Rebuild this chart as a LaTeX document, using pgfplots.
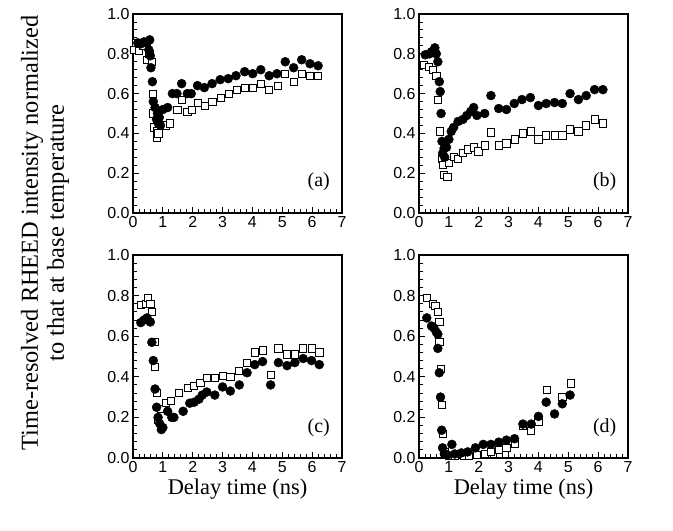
\documentclass[border=0pt]{standalone}
\usepackage{fontspec}
\setmainfont{Liberation Serif}
\newfontfamily\arial{Liberation Sans}
\usepackage{pgfplots}
\pgfplotsset{compat=1.18}

\pgfplotsset{
  panel/.style={
    scale only axis, width=209bp, height=199bp,
    xmin=0, xmax=7, ymin=0, ymax=1,
    xtick={0,1,2,3,4,5,6,7}, ytick={0,0.2,0.4,0.6,0.8,1.0},
    minor x tick num=4, minor y tick num=4,
    axis line style={line width=1.7pt},
    tick style={black, line width=0.9pt},
    major tick length=6bp, minor tick length=3.5bp,
    tick align=inside,
    xtick pos=bottom, ytick pos=left,
    ticklabel style={font=\fontsize{16}{16}\arial},
    /pgf/number format/assume math mode=true,
    y tick label style={/pgf/number format/fixed, /pgf/number format/fixed zerofill, /pgf/number format/precision=1},
    x tick label style={/pgf/number format/fixed, /pgf/number format/precision=0},
    label style={font=\fontsize{22.5}{22.5}\selectfont},
    xlabel style={yshift=1bp},
    clip=false,
  },
  circ/.style={only marks, mark=*, mark size=4.5bp, mark options={fill=black, draw=black}},
  sq/.style={only marks, mark=square*, mark size=3.6bp, mark options={draw=black, fill=white, line width=0.8pt}},
}
\tikzset{plab/.style={font=\fontsize{20}{20}\selectfont}}

\begin{document}
\begin{tikzpicture}
\useasboundingbox (0,0) rectangle (673bp,531bp);

% (a)
\begin{axis}[panel, at={(133bp,318bp)}, anchor=south west]
\addplot[sq] coordinates {
(0.05,0.82)(0.1,0.855)(0.21,0.815)(0.35,0.84)(0.47,0.77)(0.55,0.80)(0.63,0.76)(0.66,0.60)(0.68,0.50)(0.72,0.43)(0.79,0.41)(0.81,0.38)(0.85,0.40)(0.95,0.44)(1.1,0.44)(1.24,0.45)(1.49,0.52)(1.63,0.57)(1.82,0.51)(1.98,0.52)(2.18,0.555)(2.4,0.54)(2.66,0.56)(2.94,0.58)(3.21,0.60)(3.48,0.62)(3.76,0.63)(4.01,0.63)(4.28,0.65)(4.56,0.62)(4.84,0.64)(5.1,0.70)(5.38,0.66)(5.65,0.70)(5.93,0.69)(6.2,0.69)
};
\addplot[circ] coordinates {
(0.16,0.855)(0.26,0.85)(0.37,0.86)(0.47,0.855)(0.53,0.82)(0.56,0.87)(0.58,0.79)(0.6,0.73)(0.65,0.66)(0.68,0.56)(0.74,0.53)(0.79,0.47)(0.82,0.50)(0.85,0.45)(0.88,0.48)(0.92,0.44)(1.0,0.52)(1.16,0.53)(1.32,0.60)(1.47,0.60)(1.63,0.65)(1.82,0.60)(1.95,0.60)(2.16,0.64)(2.39,0.63)(2.65,0.65)(2.92,0.67)(3.19,0.675)(3.45,0.69)(3.74,0.71)(4.01,0.70)(4.28,0.72)(4.56,0.69)(4.82,0.70)(5.1,0.76)(5.38,0.73)(5.65,0.77)(5.93,0.75)(6.2,0.74)
};
\node[plab] at (axis cs:6.22,0.155) {(a)};
\end{axis}

% (b)
\begin{axis}[panel, at={(419bp,318bp)}, anchor=south west]
\addplot[sq] coordinates {
(0.16,0.745)(0.32,0.735)(0.47,0.72)(0.58,0.69)(0.63,0.57)(0.71,0.41)(0.77,0.27)(0.81,0.24)(0.84,0.19)(0.95,0.18)(1.0,0.25)(1.16,0.28)(1.31,0.27)(1.47,0.30)(1.65,0.32)(1.83,0.33)(1.99,0.31)(2.2,0.34)(2.41,0.405)(2.67,0.34)(2.93,0.35)(3.21,0.37)(3.48,0.40)(3.74,0.41)(4.0,0.37)(4.26,0.39)(4.54,0.39)(4.8,0.39)(5.06,0.42)(5.34,0.41)(5.6,0.44)(5.88,0.47)(6.16,0.45)
};
\addplot[circ] coordinates {
(0.21,0.795)(0.35,0.80)(0.42,0.81)(0.53,0.83)(0.58,0.80)(0.63,0.76)(0.68,0.66)(0.71,0.61)(0.74,0.50)(0.77,0.36)(0.79,0.30)(0.84,0.325)(0.86,0.28)(0.92,0.33)(1.0,0.37)(1.08,0.41)(1.16,0.43)(1.31,0.46)(1.47,0.47)(1.6,0.49)(1.73,0.51)(1.83,0.53)(1.94,0.49)(2.2,0.50)(2.41,0.59)(2.67,0.525)(2.93,0.52)(3.19,0.55)(3.45,0.57)(3.73,0.58)(4.0,0.54)(4.26,0.55)(4.54,0.555)(4.8,0.55)(5.06,0.60)(5.34,0.57)(5.6,0.59)(5.88,0.62)(6.16,0.62)
};
\node[plab] at (axis cs:6.22,0.155) {(b)};
\end{axis}

% (c)
\begin{axis}[panel, at={(133bp,73bp)}, anchor=south west, height=203bp, xlabel={Delay time (ns)}]
\addplot[sq] coordinates {
(0.26,0.755)(0.45,0.76)(0.5,0.79)(0.58,0.76)(0.63,0.72)(0.72,0.57)(0.74,0.45)(0.79,0.32)(0.84,0.19)(0.95,0.24)(1.1,0.27)(1.26,0.28)(1.53,0.32)(1.84,0.345)(2.05,0.355)(2.26,0.37)(2.47,0.395)(2.74,0.395)(3.0,0.405)(3.26,0.40)(3.56,0.43)(3.82,0.47)(4.08,0.52)(4.34,0.53)(4.61,0.41)(4.87,0.54)(5.16,0.51)(5.42,0.51)(5.7,0.54)(5.98,0.54)(6.24,0.52)
};
\addplot[circ] coordinates {
(0.26,0.667)(0.37,0.68)(0.47,0.69)(0.58,0.67)(0.63,0.57)(0.68,0.48)(0.74,0.34)(0.79,0.25)(0.84,0.20)(0.89,0.17)(0.95,0.14)(1.0,0.15)(1.16,0.23)(1.3,0.20)(1.37,0.20)(1.68,0.23)(1.9,0.27)(2.05,0.275)(2.21,0.29)(2.32,0.31)(2.47,0.325)(2.74,0.31)(3.0,0.35)(3.26,0.33)(3.56,0.36)(3.82,0.42)(4.08,0.46)(4.34,0.475)(4.61,0.36)(4.87,0.47)(5.16,0.455)(5.42,0.47)(5.7,0.49)(5.98,0.48)(6.24,0.46)
};
\node[plab] at (axis cs:6.22,0.15) {(c)};
\end{axis}

% (d)
\begin{axis}[panel, at={(419bp,73bp)}, anchor=south west, height=203bp, xlabel={Delay time (ns)}]
\addplot[sq] coordinates {
(0.26,0.79)(0.47,0.76)(0.55,0.75)(0.63,0.72)(0.68,0.67)(0.68,0.57)(0.72,0.44)(0.76,0.26)(0.79,0.117)(0.85,0.03)(1.0,0.01)(1.2,0.01)(1.5,0.01)(1.68,0.01)(1.94,0.015)(2.2,0.02)(2.41,0.03)(2.67,0.04)(2.93,0.05)(3.2,0.07)(3.48,0.158)(3.76,0.133)(4.0,0.178)(4.28,0.337)(4.8,0.30)(5.08,0.367)
};
\addplot[circ] coordinates {
(0.26,0.69)(0.42,0.65)(0.5,0.64)(0.58,0.62)(0.63,0.61)(0.63,0.54)(0.68,0.42)(0.72,0.30)(0.76,0.137)(0.79,0.05)(0.85,0.02)(0.95,0.015)(1.1,0.067)(1.2,0.02)(1.42,0.025)(1.63,0.03)(1.89,0.05)(2.15,0.067)(2.41,0.067)(2.67,0.078)(2.93,0.088)(3.2,0.095)(3.48,0.167)(3.76,0.167)(4.0,0.205)(4.26,0.275)(4.54,0.217)(4.8,0.267)(5.06,0.31)
};
\node[plab] at (axis cs:6.22,0.15) {(d)};
\end{axis}

\node[rotate=90, align=center, font=\fontsize{24.5}{26}\selectfont] at (45bp,298bp)
  {Time-resolved RHEED intensity normalized\\to that at base temperature};
\end{tikzpicture}
\end{document}
